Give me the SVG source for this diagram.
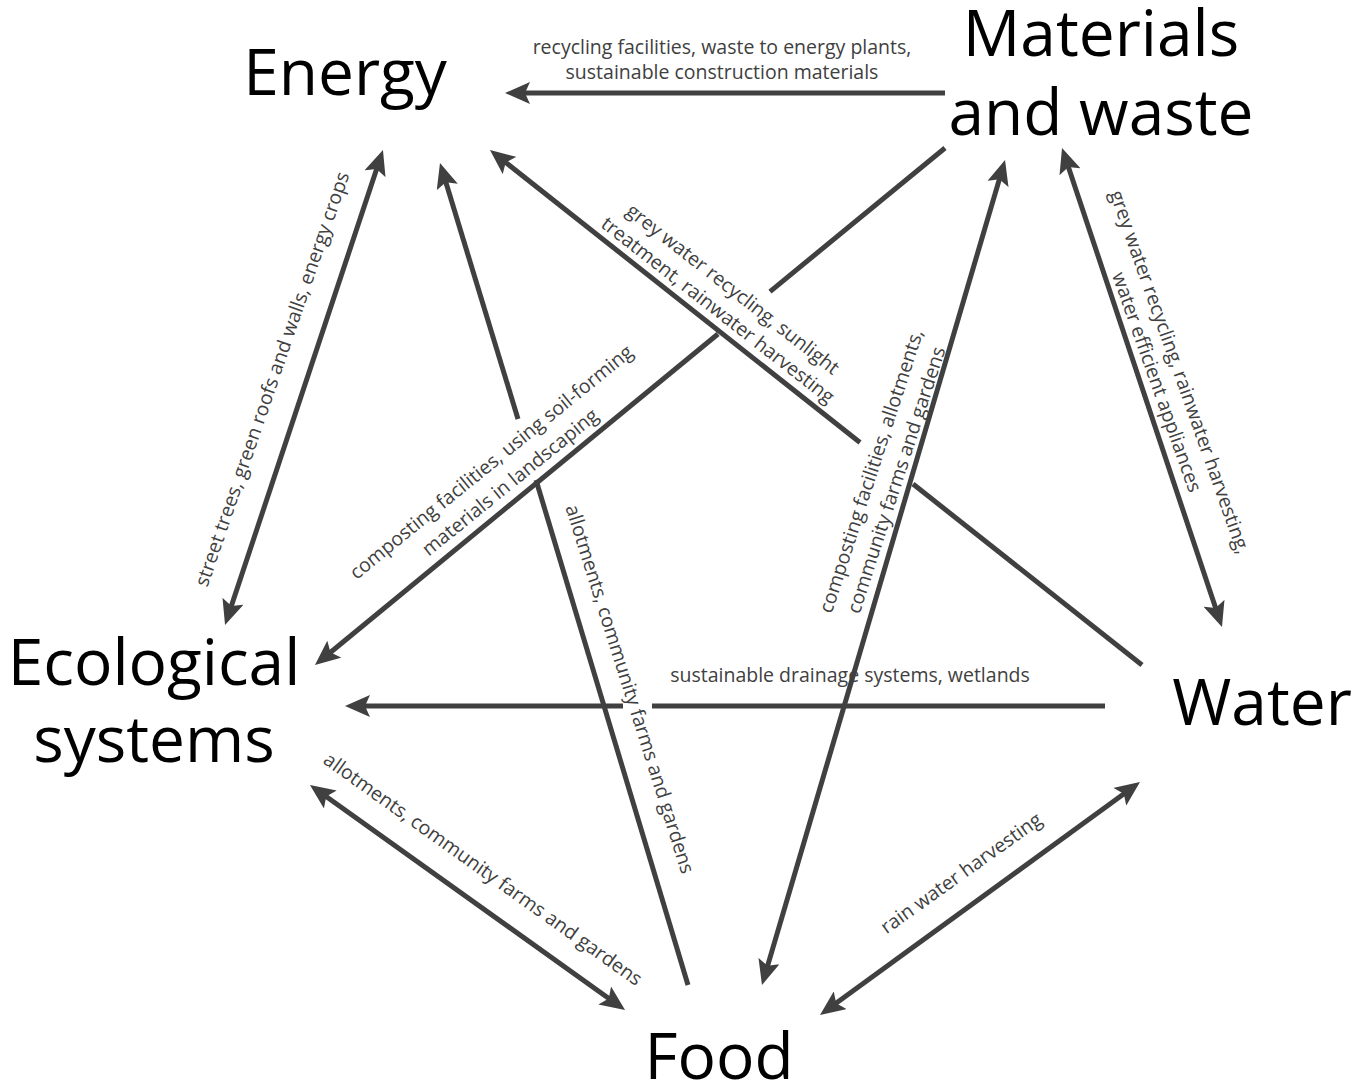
<svg xmlns="http://www.w3.org/2000/svg" width="1355" height="1092" viewBox="0 0 1355 1092">
<style>
.node{font-family:"Open Sans","Liberation Sans",sans-serif;font-size:64px;fill:#000;text-anchor:middle}
.lbl{font-family:"Open Sans","Liberation Sans",sans-serif;font-size:19.5px;fill:#404040;text-anchor:middle}
.c{stroke:#404040;stroke-width:5;fill:none}
</style>
<defs>
<marker id="ah" markerUnits="userSpaceOnUse" markerWidth="26" markerHeight="22" viewBox="0 0 26 22" refX="15" refY="11" orient="auto-start-reverse">
<path d="M0,0 L25,11 L0,22 L5,11 z" fill="#404040"/>
</marker>
</defs>
<rect width="1355" height="1092" fill="#fff"/>
<g id="connectors">
<line class="c" x1="945" y1="93" x2="515" y2="93" marker-end="url(#ah)"/>
<line class="c" x1="379.8" y1="159.5" x2="228.2" y2="615.5" marker-start="url(#ah)" marker-end="url(#ah)"/>
<line class="c" x1="688" y1="985" x2="536" y2="480"/>
<line class="c" x1="518" y1="419" x2="442.9" y2="172.6" marker-end="url(#ah)"/>
<line class="c" x1="1142" y1="665" x2="913" y2="484"/>
<line class="c" x1="860" y1="442.5" x2="497.8" y2="156.2" marker-end="url(#ah)"/>
<line class="c" x1="945" y1="148" x2="770" y2="291.6"/>
<line class="c" x1="718" y1="334" x2="322.7" y2="658.7" marker-end="url(#ah)"/>
<line class="c" x1="1105" y1="706" x2="652" y2="706"/>
<line class="c" x1="623" y1="706" x2="355" y2="706" marker-end="url(#ah)"/>
<line class="c" x1="318.1" y1="790.8" x2="616.9" y2="1004.2" marker-start="url(#ah)" marker-end="url(#ah)"/>
<line class="c" x1="764.8" y1="975.4" x2="1002.2" y2="169.6" marker-start="url(#ah)" marker-end="url(#ah)"/>
<line class="c" x1="1065.2" y1="157.5" x2="1218.8" y2="617.5" marker-start="url(#ah)" marker-end="url(#ah)"/>
<line class="c" x1="828.1" y1="1009.1" x2="1131.9" y2="787.9" marker-start="url(#ah)" marker-end="url(#ah)"/>
</g>
<g id="labels">
<text class="lbl" x="722" y="54">recycling facilities, waste to energy plants,</text>
<text class="lbl" x="722" y="79">sustainable construction materials</text>
<text class="lbl" transform="translate(272,379) rotate(-71)" dy="0.35em">street trees, green roofs and walls, energy crops</text>
<text class="lbl" transform="translate(630,689) rotate(72.4)" dy="0.35em">allotments, community farms and gardens</text>
<text class="lbl" transform="translate(733,289) rotate(38)" dy="0.35em">grey water recycling, sunlight</text>
<text class="lbl" transform="translate(718,310) rotate(38)" dy="0.35em">treatment, rainwater harvesting</text>
<text class="lbl" transform="translate(491,462) rotate(-39.1)" dy="0.35em">composting facilities, using soil-forming</text>
<text class="lbl" transform="translate(510,482) rotate(-39.1)" dy="0.35em">materials in landscaping</text>
<text class="lbl" x="850" y="675" dy="0.35em">sustainable drainage systems, wetlands</text>
<text class="lbl" transform="translate(483,869) rotate(35.5)" dy="0.35em">allotments, community farms and gardens</text>
<text class="lbl" transform="translate(871,471) rotate(-72)" dy="0.35em">composting facilities, allotments,</text>
<text class="lbl" transform="translate(896,480) rotate(-72)" dy="0.35em">community farms and gardens</text>
<text class="lbl" transform="translate(1180,372) rotate(70.5)" dy="0.35em">grey water recycling, rainwater harvesting,</text>
<text class="lbl" transform="translate(1157,382) rotate(70.5)" dy="0.35em">water efficient appliances</text>
<text class="lbl" transform="translate(961,873) rotate(-35.5)" dy="0.35em">rain water harvesting</text>
</g>
<g id="energy"><text class="node" x="345" y="95">Energy</text></g>
<g id="materials"><text class="node" x="1101" y="56">Materials</text><text class="node" x="1101" y="135">and waste</text></g>
<g id="ecological"><text class="node" x="154" y="685">Ecological</text><text class="node" x="154" y="762">systems</text></g>
<g id="water"><text class="node" x="1262" y="725">Water</text></g>
<g id="food"><text class="node" x="719" y="1079">Food</text></g>
</svg>
